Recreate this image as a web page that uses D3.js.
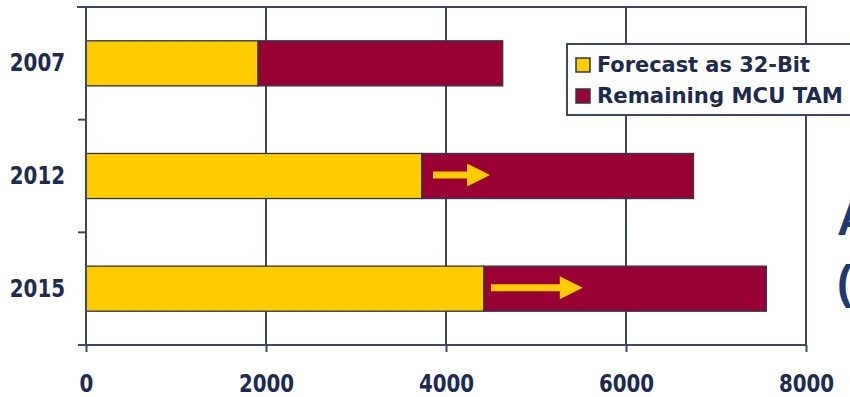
<!DOCTYPE html>
<html>
<head>
<meta charset="utf-8">
<script src="https://cdn.jsdelivr.net/npm/d3@7"></script>
<style>
  html, body { margin: 0; padding: 0; background: #ffffff; }
  svg { display: block; }
  .lbl { font-family: "DejaVu Sans Condensed", "DejaVu Sans", sans-serif; font-stretch: condensed; font-weight: bold; fill: #1c2b4f; }
</style>
</head>
<body>
<svg id="chart" width="850" height="397"></svg>
<script>
// Microcontroller market: units forecast as 32-bit vs. remaining MCU TAM
const years = ["2007", "2012", "2015"];
const forecast32 = [1910, 3730, 4420];
const totalTAM = [4630, 6750, 7560];
const xTicks = [0, 2000, 4000, 6000, 8000];
const seriesNames = ["Forecast as 32-Bit", "Remaining MCU TAM"];
// growth arrows drawn inside the bars (start value, tip value)
const arrowFrom = [null, 3855, 4500];
const arrowTo = [null, 4490, 5520];

const colors = { yellow: "#ffcc00", red: "#990033", ink: "#3a4768", text: "#1c2b4f" };

const svg = d3.select("#chart");
const plotL = 86, plotR = 806, plotT = 7, plotB = 345;
const digitW = 13.8;

const x = d3.scaleLinear().domain([0, 8000]).range([plotL, plotR]);
const y = d3.scaleBand().domain(years).range([plotT, plotB]).padding(0);
const barH = y.bandwidth() * 0.4;
const barY = c => y(c) + (y.bandwidth() - barH) / 2;

// vertical gridlines
svg.append("g").selectAll("line")
  .data(xTicks.slice(1))
  .join("line")
  .attr("x1", d => x(d)).attr("x2", d => x(d))
  .attr("y1", plotT).attr("y2", plotB)
  .attr("stroke", colors.ink).attr("stroke-width", 2);

// top frame line
svg.append("line")
  .attr("x1", plotL - 9).attr("x2", plotR + 1)
  .attr("y1", plotT).attr("y2", plotT)
  .attr("stroke", colors.ink).attr("stroke-width", 2);

// stacked bars
const rows = years.map((c, i) => ({ c, f: forecast32[i], t: totalTAM[i] }));
const bars = svg.append("g");
bars.selectAll("rect.rem").data(rows).join("rect")
  .attr("class", "rem")
  .attr("x", d => x(d.f)).attr("width", d => x(d.t) - x(d.f))
  .attr("y", d => barY(d.c)).attr("height", barH)
  .attr("fill", colors.red).attr("stroke", "#2b3658").attr("stroke-width", 1.3);
bars.selectAll("rect.fc").data(rows).join("rect")
  .attr("class", "fc")
  .attr("x", x(0)).attr("width", d => x(d.f) - x(0))
  .attr("y", d => barY(d.c)).attr("height", barH)
  .attr("fill", colors.yellow).attr("stroke", "#2b3658").attr("stroke-width", 1.3);

// arrows
const headLen = 23, headHalf = 11.5, shaftHalf = 3.5;
years.forEach((c, i) => {
  if (arrowFrom[i] == null) return;
  const x0 = x(arrowFrom[i]), x1 = x(arrowTo[i]);
  const cy = y(c) + y.bandwidth() / 2 - 1;
  const xb = x1 - headLen;
  const pts = [[x0, cy - shaftHalf], [xb, cy - shaftHalf], [xb, cy - headHalf], [x1, cy],
               [xb, cy + headHalf], [xb, cy + shaftHalf], [x0, cy + shaftHalf]];
  svg.append("path").attr("d", "M" + pts.join("L") + "Z").attr("fill", colors.yellow);
});

// narrow, bold label styling shared by both axes
function styleLabels(sel) {
  sel.attr("class", "lbl").attr("font-size", 25).attr("fill", colors.text)
    .attr("lengthAdjust", "spacingAndGlyphs")
    .attr("textLength", function () { return this.textContent.length * digitW; });
}

// x axis
const xAxis = svg.append("g").attr("transform", `translate(0,${plotB})`)
  .call(d3.axisBottom(x).tickValues(xTicks).tickSize(7).tickSizeOuter(0).tickPadding(22).tickFormat(d3.format("d")));
xAxis.select(".domain").attr("stroke", colors.ink).attr("stroke-width", 2).attr("d", `M${plotL - 7},0H${plotR}`);
xAxis.selectAll(".tick line").attr("stroke", colors.ink).attr("stroke-width", 2);
xAxis.selectAll(".tick text").call(styleLabels);

// y axis: line, boundary ticks and category labels
svg.append("line").attr("x1", plotL).attr("x2", plotL).attr("y1", plotT).attr("y2", plotB)
  .attr("stroke", colors.ink).attr("stroke-width", 2);
const bounds = years.map(c => y(c)).concat([plotB]);
svg.append("g").selectAll("line").data(bounds).join("line")
  .attr("x1", plotL - 8).attr("x2", plotL).attr("y1", d => d).attr("y2", d => d)
  .attr("stroke", colors.ink).attr("stroke-width", 2);
const yAxis = svg.append("g").attr("transform", `translate(${plotL},0)`)
  .call(d3.axisLeft(y).tickSize(0).tickPadding(21));
yAxis.select(".domain").remove();
yAxis.selectAll(".tick text").call(styleLabels);

// legend
const lg = svg.append("g");
lg.append("rect").attr("x", 567).attr("y", 44).attr("width", 320).attr("height", 71)
  .attr("fill", "#ffffff").attr("stroke", colors.ink).attr("stroke-width", 2);
const legendColors = [colors.yellow, colors.red];
const legendLen = [213, 246];
seriesNames.forEach((name, i) => {
  const by = 72 + i * 31;
  lg.append("rect").attr("x", 576).attr("y", by - 14).attr("width", 14).attr("height", 14)
    .attr("fill", legendColors[i]).attr("stroke", "#2b3658").attr("stroke-width", 1.5);
  lg.append("text").attr("class", "lbl").attr("x", 597).attr("y", by)
    .attr("font-size", 21).attr("fill", colors.text)
    .attr("textLength", legendLen[i]).attr("lengthAdjust", "spacingAndGlyphs")
    .text(name);
});

// slide heading fragments at the right edge
svg.append("text").attr("x", 837).attr("y", 235)
  .attr("font-family", "Liberation Sans, Arial, sans-serif").attr("font-weight", "bold")
  .attr("font-size", 46).attr("fill", "#1f3a6e").text("A");
svg.append("text").attr("x", 837).attr("y", 298)
  .attr("font-family", "Liberation Sans, Arial, sans-serif").attr("font-weight", "bold")
  .attr("font-size", 46).attr("fill", "#1f3a6e").text("(");
</script>
</body>
</html>
